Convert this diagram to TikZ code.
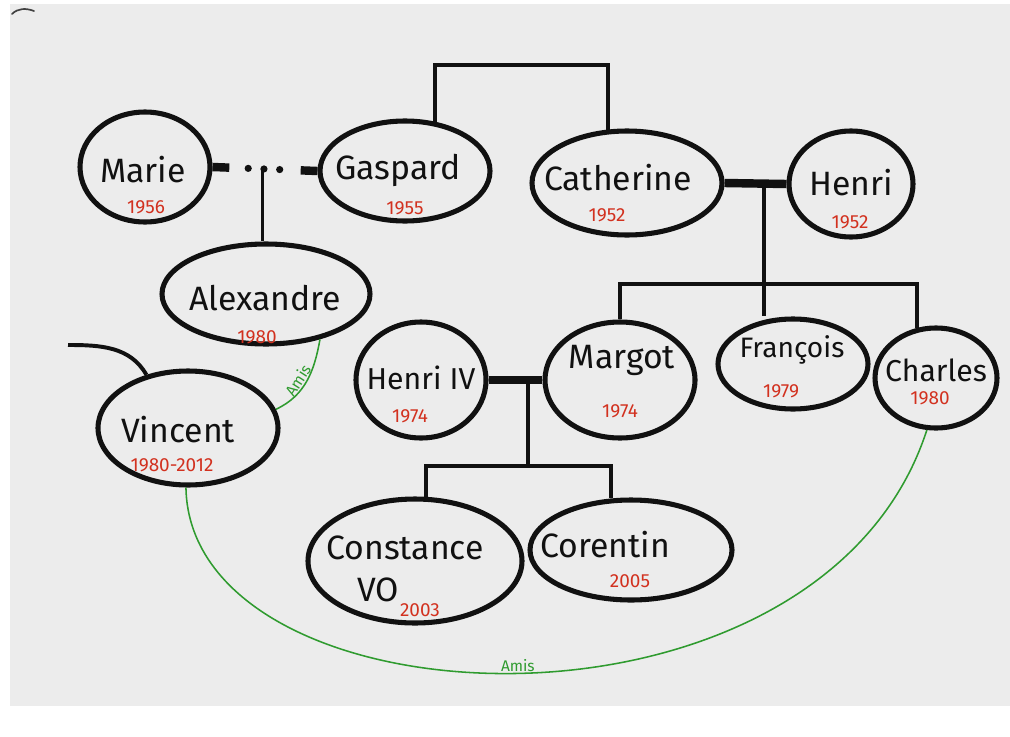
\documentclass[tikz,border=0pt]{standalone}
\usepackage{fontspec}
\setmainfont{Fira Sans}
\usetikzlibrary{shapes.geometric,calc}
\definecolor{paper}{HTML}{ECECEC}
\definecolor{ink}{HTML}{111111}
\definecolor{yearred}{HTML}{D2311F}
\definecolor{amigreen}{HTML}{2F9B2F}
\newcommand\pxu{0.025cm}
\begin{document}
\begin{tikzpicture}[x=0.025cm,y=-0.025cm,
  person/.style={ellipse, draw=ink, line width=3.6pt, inner sep=0pt},
  namefont/.style={font=\fontsize{24}{28}\selectfont, text=ink, inner sep=0pt},
  midname/.style={font=\fontsize{21.5}{26}\selectfont, text=ink, inner sep=0pt},
  smallname/.style={font=\fontsize{20}{24}\selectfont, text=ink, inner sep=0pt},
  yearfont/.style={font=\fontsize{13.5}{15}\selectfont, text=yearred, inner sep=0pt},
  link/.style={draw=ink, line width=2.2pt},
  couple/.style={draw=ink, line width=6pt},
  amis/.style={draw=amigreen, line width=1.1pt},
  amislabel/.style={font=\fontsize{11}{13}\selectfont, text=amigreen, inner sep=1pt}]
\useasboundingbox (0,0) rectangle (1010,736);
\fill[white] (0,0) rectangle (1010,736);
\fill[paper] (10,4) rectangle (1010,706);
\draw[ink!80, line width=1.2pt, line cap=round] (12,14) .. controls (18,8) and (26,8) .. (34,11);

% persons
\node[person, minimum width=130*\pxu, minimum height=110*\pxu] (marie) at (145,167) {};
\node[person, minimum width=170*\pxu, minimum height=100*\pxu] (gaspard) at (405,171) {};
\node[person, minimum width=190*\pxu, minimum height=104*\pxu] (catherine) at (627,183) {};
\node[person, minimum width=124*\pxu, minimum height=106*\pxu] (henri) at (851,184) {};
\node[person, minimum width=208*\pxu, minimum height=100*\pxu] (alexandre) at (266,294) {};
\node[person, minimum width=180*\pxu, minimum height=114*\pxu] (vincent) at (188,428) {};
\node[person, minimum width=130*\pxu, minimum height=116*\pxu] (henriiv) at (421,380) {};
\node[person, minimum width=150*\pxu, minimum height=116*\pxu] (margot) at (620,380) {};
\node[person, minimum width=150*\pxu, minimum height=90*\pxu] (francois) at (793,364) {};
\node[person, minimum width=122*\pxu, minimum height=100*\pxu] (charles) at (936,378) {};
\node[person, minimum width=214*\pxu, minimum height=124*\pxu] (constance) at (415,561) {};
\node[person, minimum width=202*\pxu, minimum height=100*\pxu] (corentin) at (631,550) {};

% names
\node[namefont] (marieT) at (143,170) {Marie};
\node[namefont] (gaspardT) at (398,170) {Gaspard};
\node[namefont] (catherineT) at (618,178) {Catherine};
\node[namefont] (henriT) at (851,183) {Henri};
\node[namefont] (alexandreT) at (265,298) {Alexandre};
\node[namefont] (vincentT) at (178,430) {Vincent};
\node[midname] (henriivT) at (421,378) {Henri IV};
\node[namefont] (margotT) at (622,360) {Margot};
\node[smallname] (francoisT) at (792,350) {François};
\node[midname] (charlesT) at (936,370) {Charles};
\node[namefont] (constanceT) at (405,548) {Constance};
\node[namefont] (voT) at (378,590) {VO};
\node[namefont] (corentinT) at (605,545) {Corentin};

% years
\node[yearfont] (marieY) at (146,207) {1956};
\node[yearfont] (gaspardY) at (405,208) {1955};
\node[yearfont] (catherineY) at (607,215) {1952};
\node[yearfont] (henriY) at (850,222) {1952};
\node[yearfont] (alexandreY) at (257,337) {1980};
\node[yearfont] (vincentY) at (172,465) {1980-2012};
\node[yearfont] (henriivY) at (410,416) {1974};
\node[yearfont] (margotY) at (620,411) {1974};
\node[yearfont] (francoisY) at (781,391) {1979};
\node[yearfont] (charlesY) at (930,398) {1980};
\node[yearfont] (constanceY) at (420,610) {2003};
\node[yearfont] (corentinY) at (630,581) {2005};

% Gaspard - Catherine (siblings)
\coordinate (gctop) at (520,65);
\draw[link, line width=2.8pt] (gaspard.59) |- (gctop) -| (catherine.110);

% Marie ... Gaspard
\draw[couple] (marie.east) -- ($(marie.east)!0.16!(gaspard.west)$);
\draw[couple] ($(marie.east)!0.84!(gaspard.west)$) -- (gaspard.west);
\foreach \f in {0.34,0.49,0.64}
  \fill[ink] ($(marie.east)!\f!(gaspard.west)$) circle[radius=3.6*\pxu];
\coordinate (mgmid) at ($(marie.east)!0.48!(gaspard.west)$);
\draw[link] (mgmid) -- (mgmid |- alexandre.north);

% Catherine = Henri
\draw[couple] (catherine.east) -- (henri.west);
\coordinate (chmid) at ($(catherine.east)!0.63!(henri.west)$);
\coordinate (chbar) at ($(chmid)+(0,100)$);
\draw[link, line width=2.8pt] (chmid) -- (chmid |- francois.north);
\draw[link, line width=2.8pt] (margot.north) |- (chbar) -| (charles.111);

% Henri IV = Margot
\draw[couple] (henriiv.east) -- (margot.west);
\coordinate (hmmid) at ($(henriiv.east)!0.73!(margot.west)$);
\coordinate (hmbar) at ($(hmmid)+(0,86)$);
\draw[link, line width=2.8pt] (hmmid) -- (hmbar);
\draw[link, line width=2.8pt] (constance.80) |- (hmbar) -| (corentin.111);

% Vincent free line
\coordinate (vfree) at (68,345);
\draw[link, line width=2.8pt] (vfree) to[out=0,in=120] (vincent.128);

% friends
\draw[amis] (alexandre.-40) to[out=-100,in=25]
  node[amislabel, pos=0.55, sloped, above] {Amis} (vincent.12);
\draw[amis] (vincent.-92) .. controls (190,730) and (820,760) ..
  node[amislabel, pos=0.5, above] {Amis} (charles.-100);
\end{tikzpicture}
\end{document}
